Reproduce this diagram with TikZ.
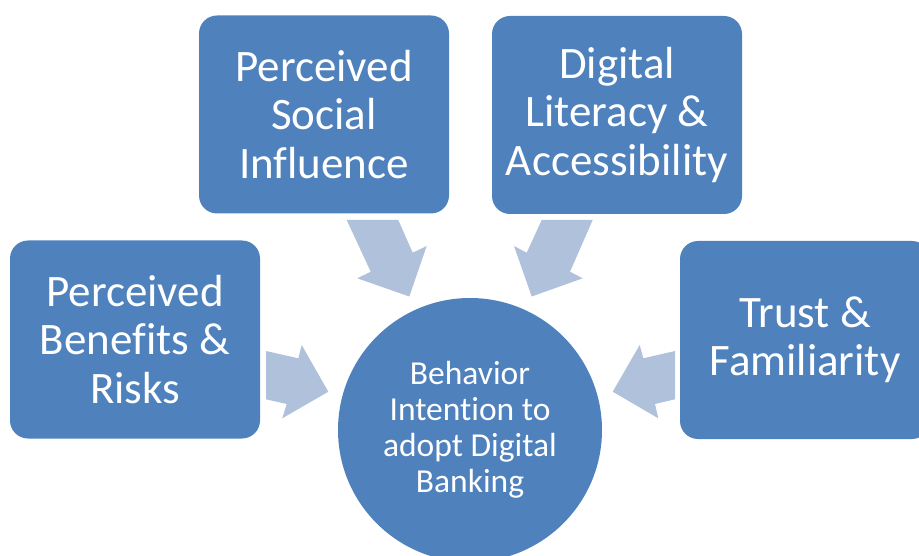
\documentclass[tikz,border=0pt]{standalone}
\usepackage{fontspec}
\setmainfont{Carlito}[Ligatures=NoCommon]
\definecolor{boxblue}{HTML}{4F81BD}
\definecolor{arrowblue}{HTML}{B0C1DC}
\begin{document}
\begin{tikzpicture}[x=1pt,y=-1pt,
  factor/.style={fill=boxblue, rounded corners=18pt, minimum width=250pt,
    minimum height=198pt, inner sep=0pt, text=white, align=center,
    font=\fontsize{45}{48.5}\selectfont},
  goal/.style={circle, fill=boxblue, minimum size=264pt, inner sep=0pt,
    text=white, align=center, font=\fontsize{33.5}{36}\selectfont},
  flow/.style={fill=arrowblue, draw=none}]
\useasboundingbox (0,0) rectangle (919,556);
\clip (0,0) rectangle (919,556);

% converging block arrows
\fill[flow] (346.7,220) -- (398.3,220) -- (412.7,252.7) -- (426.7,246)
  -- (409.3,296.5) -- (357.3,278.3) -- (370.7,271.7) -- cycle;
\fill[flow] (592.7,220) -- (541.7,220) -- (526.7,252.7) -- (514,246)
  -- (531.7,296.5) -- (582.7,278.3) -- (570,271.7) -- cycle;
\fill[flow] (266,351) -- (298.3,358.3) -- (301.7,345) -- (328.3,391.7)
  -- (282.3,418.3) -- (286.7,404) -- (266,399.3) -- cycle;
\fill[flow] (675,351) -- (643.3,358.3) -- (639.7,345) -- (612.7,391.7)
  -- (658.3,418.3) -- (655,404) -- (675,399.3) -- cycle;

% factor boxes
\node[factor] (social) at (324,114.5) {Perceived\\Social\\Influence};
\node[factor] (digital) at (617,115) {Digital\\Literacy \&\\Accessibility};
\node[factor] (benefits) at (135,339.5) {Perceived\\Benefits \&\\Risks};
\node[factor] (trust) at (805,340) {Trust \&\\Familiarity};

% central outcome
\node[goal] (intention) at (470,430) {Behavior\\Intention to\\adopt Digital\\Banking};
\end{tikzpicture}
\end{document}
